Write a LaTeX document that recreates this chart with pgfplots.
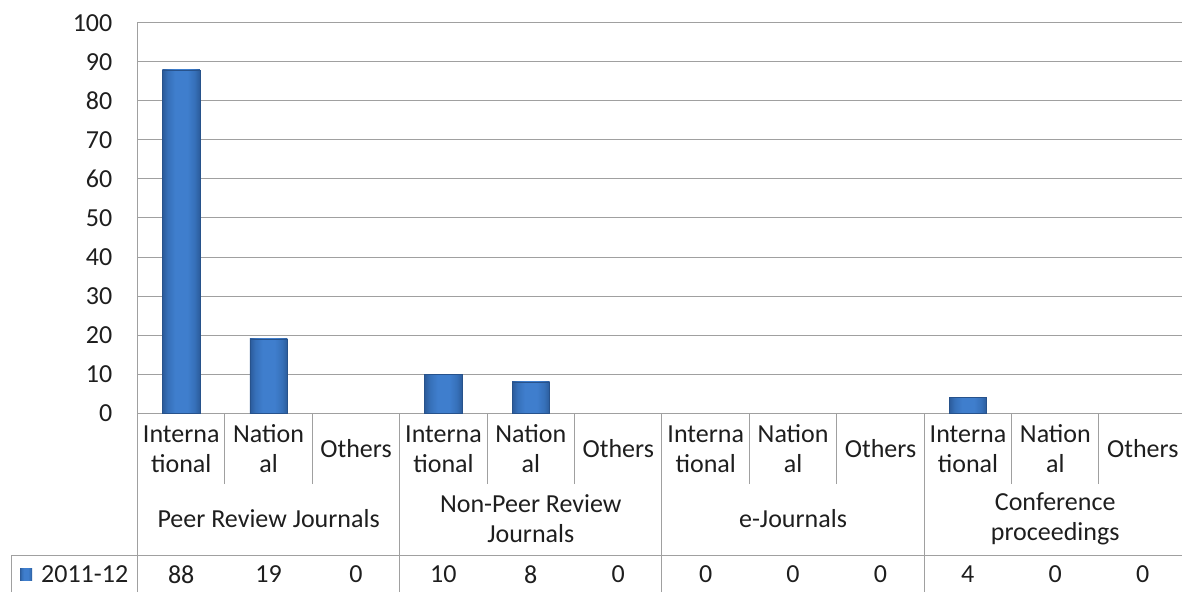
\documentclass[border=0pt]{standalone}
\usepackage{pgfplots}
\usepackage{pgfplotstable}
\pgfplotsset{compat=1.18}
\usepackage{fontspec}
\setmainfont{Carlito}
\definecolor{gridc}{HTML}{A0A0A0}
\definecolor{bardark}{HTML}{2B5B9A}
\definecolor{baredge}{HTML}{3670B9}
\definecolor{barmid}{HTML}{3F7ECD}
\definecolor{txt}{HTML}{1E1E1E}
\pgfdeclarehorizontalshading{barshade}{100bp}{color(0bp)=(bardark); color(25bp)=(bardark); color(32bp)=(baredge); color(42bp)=(barmid); color(58bp)=(barmid); color(68bp)=(baredge); color(75bp)=(bardark); color(100bp)=(bardark)}
\newcommand{\cf}{\fontsize{26}{30}\selectfont}
\pgfplotstableread{
x y
0 88
1 19
2 0
3 10
4 8
5 0
6 0
7 0
8 0
9 4
10 0
11 0
}\datatab
\begin{document}
\begin{tikzpicture}[x=1pt,y=1pt]
\useasboundingbox (0,0) rectangle (1182,592);
\clip (0,0) rectangle (1182,592);
\begin{axis}[
  at={(137.5pt,179pt)}, anchor=south west,
  scale only axis, width=1049pt, height=390pt,
  xmin=-0.5, xmax=11.5, ymin=0, ymax=100,
  ytick={0,10,...,100},
  xtick={0,...,11},
  xticklabels={{Interna\\tional},{Nation\\al},Others,{Interna\\tional},{Nation\\al},Others,{Interna\\tional},{Nation\\al},Others,{Interna\\tional},{Nation\\al},Others},
  xticklabel style={align=center, anchor=center, yshift=-36pt, font=\cf, text=txt},
  yticklabel style={inner sep=0pt, xshift=-25pt, font=\cf, text=txt},
  /pgf/number format/assume math mode=true,
  major tick length=0pt,
  ymajorgrids, grid style={gridc, line width=1pt},
  axis line style={gridc, line width=1pt},
  unbounded coords=discard,
  clip=false,
]
\pgfplotsinvokeforeach{0,1,3,4,9}{
\addplot[ybar, bar width=37.5pt, bar shift=0pt, draw=bardark!90!black, line width=0.5pt,
  shading=barshade, shading angle=0,
  x filter/.expression={x==#1 ? x : nan}]
  table[x=x,y=y] {\datatab};
}
\end{axis}
% table lines
\draw[gridc, line width=1pt] (11,37) -- (1190,37);
\draw[gridc, line width=1pt] (11,0) -- (11,37);
\draw[gridc, line width=1pt] (137.5,0) -- (137.5,179);
\foreach \k in {3,6,9} {\draw[gridc, line width=1pt] ({137.5+87.4*\k},0) -- ({137.5+87.4*\k},179);}
\foreach \k in {1,2,4,5,7,8,10,11} {\draw[gridc, line width=1pt] ({137.5+87.4*\k},108) -- ({137.5+87.4*\k},179);}
% group labels
\node[font=\cf, text=txt, align=center] at ({137.5+87.4*1.5},73) {Peer Review Journals};
\node[font=\cf, text=txt, align=center] at ({137.5+87.4*4.5},73) {Non-Peer Review\\Journals};
\node[font=\cf, text=txt, align=center] at ({137.5+87.4*7.5},73) {e-Journals};
\node[font=\cf, text=txt, align=center] at ({137.5+87.4*10.5},73) {Conference\\proceedings};
% data row
\foreach \v [count=\i from 0] in {88,19,0,10,8,0,0,0,0,4,0,0} {
  \node[font=\cf, text=txt] at ({137.5+87.4*(\i+0.5)},17.5) {\v};
}
\shade[shading=barshade, shading angle=0] (20,12) rectangle (32,24);
\node[font=\cf, text=txt, anchor=west, inner sep=0pt] at (41,17.5) {2011-12};
\end{tikzpicture}
\end{document}
